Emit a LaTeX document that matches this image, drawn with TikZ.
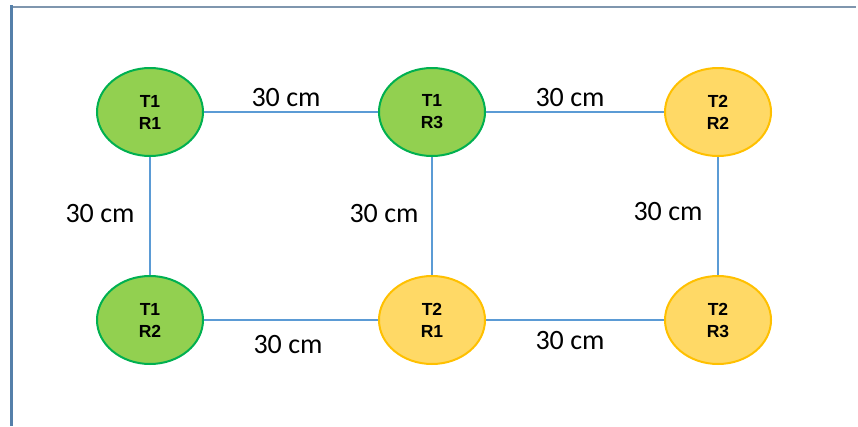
\documentclass[tikz,border=0pt]{standalone}
\usepackage{fontspec}
\usetikzlibrary{shapes.geometric}
\setmainfont{Carlito}
\newfontfamily\nodefont{Liberation Sans}
\definecolor{gfill}{HTML}{92D050}
\definecolor{gline}{HTML}{00B050}
\definecolor{yfill}{HTML}{FFD966}
\definecolor{yline}{HTML}{FFC000}
\definecolor{edge}{HTML}{5B9BD5}
\definecolor{frametop}{HTML}{7F96AE}
\definecolor{frameleft}{HTML}{5580AA}
\begin{document}
\begin{tikzpicture}[x=1pt,y=-1pt,
  nd/.style={ellipse, minimum width=106pt, minimum height=88pt, line width=2pt, inner sep=0pt,
    font=\nodefont\bfseries\fontsize{17.5}{22}\selectfont, align=center},
  gn/.style={nd, draw=gline, fill=gfill},
  yn/.style={nd, draw=yline, fill=yfill},
  link/.style={draw=edge, line width=1.3pt},
  lbl/.style={font=\fontsize{28}{30}\selectfont, inner sep=0pt}]
\useasboundingbox (0,0) rectangle (858,426);
\draw[frametop, line width=1.6pt] (11,7) -- (856,7);
\draw[frameleft, line width=2.2pt] (11.5,5) -- (11.5,426);
\node[gn] (a) at (150,112) {T1\\R1};
\node[gn] (b) at (432,112) {T1\\R3};
\node[yn] (c) at (718,112) {T2\\R2};
\node[gn] (d) at (150,320) {T1\\R2};
\node[yn] (e) at (432,320) {T2\\R1};
\node[yn] (f) at (718,320) {T2\\R3};
\path[link] (a) -- (b);
\path[link] (b) -- (c);
\path[link] (a) -- (d);
\path[link] (b) -- (e);
\path[link] (c) -- (f);
\path[link] (d.east) -- (e.west);
\path[link] (e) -- (f);
\node[lbl] at (286,98) {30 cm};
\node[lbl] at (570,98) {30 cm};
\node[lbl] at (100,214) {30 cm};
\node[lbl] at (384,214) {30 cm};
\node[lbl] at (668,212) {30 cm};
\node[lbl] at (288,345) {30 cm};
\node[lbl] at (570,341) {30 cm};
\end{tikzpicture}
\end{document}
